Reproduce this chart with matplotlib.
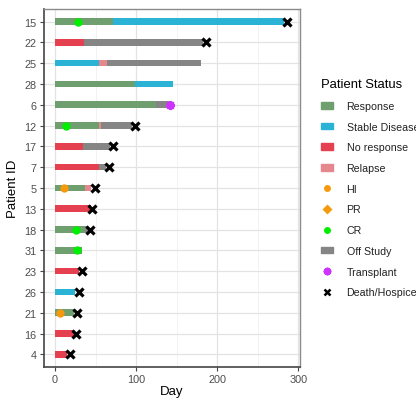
import matplotlib
matplotlib.use("Agg")
import matplotlib.pyplot as plt
from matplotlib.patches import Patch
from matplotlib.lines import Line2D
from matplotlib.ticker import MultipleLocator

plt.rcParams['font.family'] = ['Liberation Sans', 'DejaVu Sans']

# ---- data ----
patients = ["4", "16", "21", "26", "23", "31", "18", "13", "5", "7", "17", "12", "6", "28", "25", "22", "15"]

seg_patient = ["15", "15", "22", "22", "25", "25", "25", "28", "28", "6", "6",
               "12", "12", "12", "17", "17", "7", "7", "5", "5", "13",
               "18", "18", "31", "23", "26", "21", "16", "4"]
seg_start = [0, 71, 0, 36, 0, 54, 64, 0, 99, 0, 125,
             0, 54, 57, 0, 35, 0, 54, 0, 37, 0,
             0, 37, 0, 0, 0, 0, 0, 0]
seg_end = [71, 282, 36, 183, 54, 64, 180, 99, 146, 125, 140,
           54, 57, 95, 35, 68, 54, 63, 37, 44, 44,
           37, 41, 33, 29, 25, 24, 24, 15]
seg_status = ["Response", "Stable Disease", "No response", "Off Study",
              "Stable Disease", "Relapse", "Off Study", "Response", "Stable Disease",
              "Response", "Off Study", "Response", "Relapse", "Off Study",
              "No response", "Off Study", "No response", "Off Study",
              "Response", "Relapse", "No response", "Response", "Off Study",
              "Response", "No response", "Stable Disease", "Response",
              "No response", "No response"]

hi_patient = ["5", "21"]
hi_day = [11, 6]
pr_patient = []
pr_day = []
cr_patient = ["15", "12", "18", "31"]
cr_day = [28, 14, 26, 27]
transplant_patient = ["6"]
transplant_day = [142]
death_patient = ["15", "22", "12", "17", "7", "5", "13", "18", "23", "26", "21", "16", "4"]
death_day = [286, 186, 98, 72, 66, 49, 46, 43, 33, 29, 27, 26, 18]

status_colors = {
    "Response": "#6f9e6f",
    "Stable Disease": "#2bb3d6",
    "No response": "#e5404f",
    "Relapse": "#e6878d",
    "Off Study": "#858585",
}

# ---- plot ----
fig = plt.figure(figsize=(4.16, 4.02), dpi=100)
ax = fig.add_axes([0.105, 0.085, 0.616, 0.89])

ypos = {p: i + 1 for i, p in enumerate(patients)}

for p, s, e, st in zip(seg_patient, seg_start, seg_end, seg_status):
    ax.barh(ypos[p], e - s, left=s, height=0.32, color=status_colors[st],
            linewidth=0, zorder=3)

ax.plot(hi_day, [ypos[p] for p in hi_patient], "o", color="#f59a0c", ms=6,
        mec="none", zorder=4)
if pr_day:
    ax.plot(pr_day, [ypos[p] for p in pr_patient], "D", color="#f59a0c", ms=5,
            mec="none", zorder=4)
ax.plot(cr_day, [ypos[p] for p in cr_patient], "o", color="#00ee00", ms=6,
        mec="none", zorder=4)
ax.plot(transplant_day, [ypos[p] for p in transplant_patient], marker=(8, 2, 0),
        ls="none", color="#cc33ff", ms=6.5, mew=1.6, zorder=4)
ax.plot(death_day, [ypos[p] for p in death_patient], "x", color="black", ms=6,
        mew=2.3, zorder=5)

ax.set_xlim(-14, 302)
ax.set_ylim(0.4, 17.6)
ax.set_yticks(range(1, len(patients) + 1))
ax.set_yticklabels(patients)
ax.xaxis.set_major_locator(MultipleLocator(100))
ax.xaxis.set_minor_locator(MultipleLocator(50))

ax.grid(True, which="major", color="#e3e3e3", lw=0.9, zorder=0)
ax.grid(True, which="minor", axis="x", color="#f0f0f0", lw=0.6, zorder=0)
ax.set_axisbelow(True)
for side in ["top", "right"]:
    ax.spines[side].set_color("#8a8a8a")
    ax.spines[side].set_linewidth(1.0)
for side in ["left", "bottom"]:
    ax.spines[side].set_color("#444444")
    ax.spines[side].set_linewidth(1.2)

ax.tick_params(axis="both", which="major", labelsize=7.8, labelcolor="#4d4d4d",
               color="#444444", length=3, width=0.8, pad=2)
ax.tick_params(axis="x", which="minor", length=0)
ax.set_xlabel("Day", fontsize=9.5, color="black", labelpad=1)
ax.set_ylabel("Patient ID", fontsize=9.5, color="black", labelpad=4)

handles = [
    Patch(color=status_colors["Response"], label="Response"),
    Patch(color=status_colors["Stable Disease"], label="Stable Disease"),
    Patch(color=status_colors["No response"], label="No response"),
    Patch(color=status_colors["Relapse"], label="Relapse"),
    Line2D([], [], ls="none", marker="o", color="#f59a0c", ms=5, mec="none", label="HI"),
    Line2D([], [], ls="none", marker="D", color="#f59a0c", ms=5, mec="none", label="PR"),
    Line2D([], [], ls="none", marker="o", color="#00ee00", ms=5, mec="none", label="CR"),
    Patch(color=status_colors["Off Study"], label="Off Study"),
    Line2D([], [], ls="none", marker=(8, 2, 0), color="#cc33ff", ms=5.5, mew=1.4, label="Transplant"),
    Line2D([], [], ls="none", marker="x", color="black", ms=5, mew=1.8, label="Death/Hospice"),
]
leg = fig.legend(handles=handles, title="Patient Status", loc="upper left",
                 bbox_to_anchor=(0.743, 0.832), frameon=False, fontsize=7.7,
                 title_fontsize=9.4, handlelength=1.1, handleheight=0.6,
                 labelspacing=1.0, handletextpad=1.3, alignment="left",
                 borderpad=0.6)
for t in leg.get_texts():
    t.set_color("#222222")

fig.savefig("out.png", dpi=100)
